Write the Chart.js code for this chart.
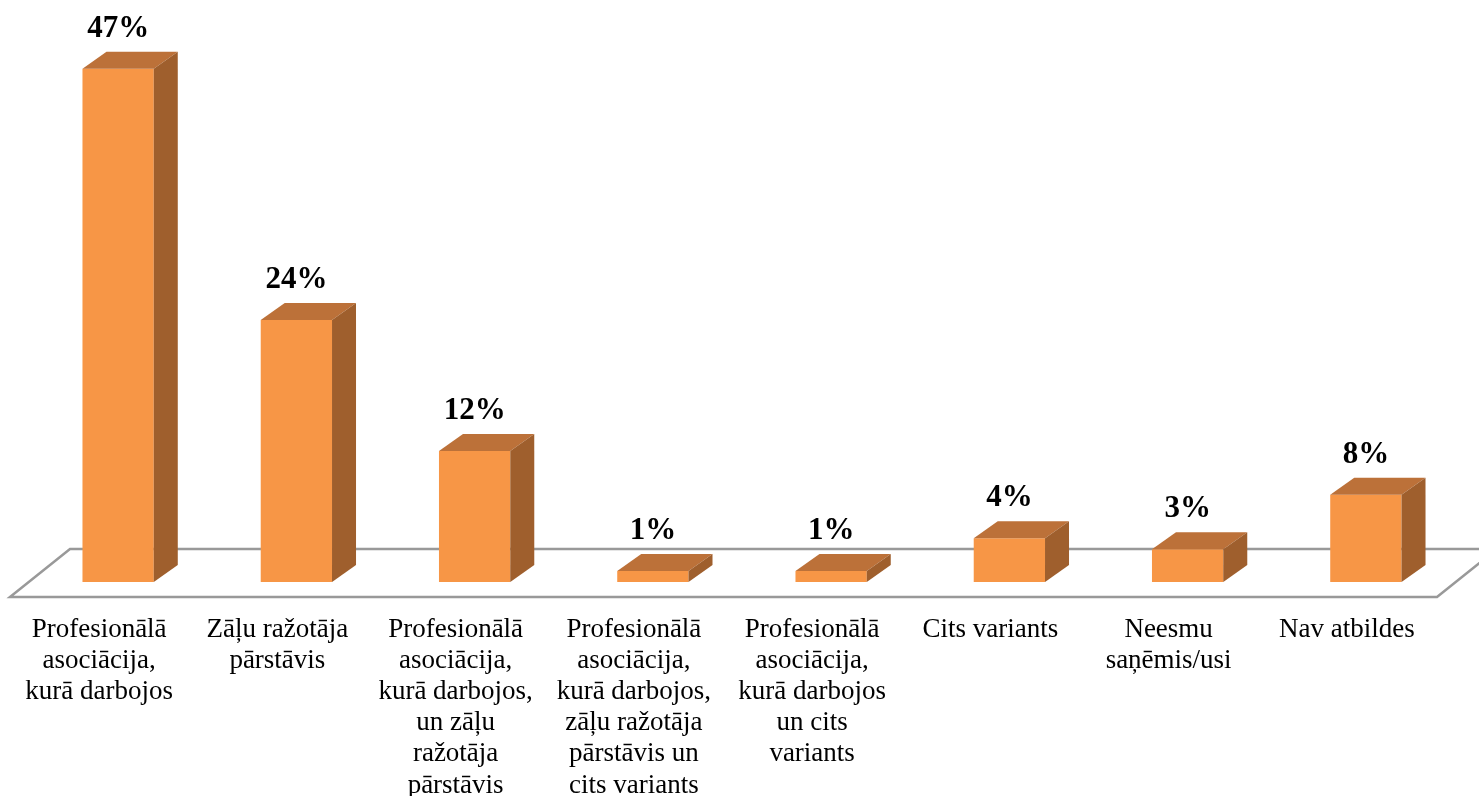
<!DOCTYPE html>
<html>
<head>
<meta charset="utf-8">
<script src="https://cdn.jsdelivr.net/npm/chart.js@4"></script>
<style>
  html, body { margin: 0; padding: 0; background: #fff; }
  #wrap { width: 1479px; height: 796px; }
</style>
</head>
<body>
<div id="wrap"><canvas id="chart"></canvas></div>
<script>
// data
const categories = [
  ["Profesionālā", "asociācija,", "kurā darbojos"],
  ["Zāļu ražotāja", "pārstāvis"],
  ["Profesionālā", "asociācija,", "kurā darbojos,", "un zāļu", "ražotāja", "pārstāvis"],
  ["Profesionālā", "asociācija,", "kurā darbojos,", "zāļu ražotāja", "pārstāvis un", "cits variants"],
  ["Profesionālā", "asociācija,", "kurā darbojos", "un cits", "variants"],
  ["Cits variants"],
  ["Neesmu", "saņēmis/usi"],
  ["Nav atbildes"]
];
const shares = [47, 24, 12, 1, 1, 4, 3, 8];

// 3D look
const DX = 24, DY = -17;
const FRONT = "#F79646", TOP = "#BC7139", SIDE = "#9F5F2D";

const box3d = {
  id: "box3d",
  beforeDatasetsDraw(chart) {
    // floor
    const { ctx, chartArea: a } = chart;
    const fl = a.left - 19, fr = a.right - 18, fy = a.bottom + 15;
    ctx.save();
    ctx.beginPath();
    ctx.moveTo(fl, fy);
    ctx.lineTo(fr, fy);
    ctx.lineTo(fr + 60, fy - 48);
    ctx.lineTo(fl + 60, fy - 48);
    ctx.closePath();
    ctx.fillStyle = "#fff";
    ctx.fill();
    ctx.strokeStyle = "#999";
    ctx.lineWidth = 2.5;
    ctx.stroke();
    ctx.restore();
  },
  afterDatasetsDraw(chart) {
    const ctx = chart.ctx;
    const meta = chart.getDatasetMeta(0);
    ctx.save();
    meta.data.forEach((bar, i) => {
      const l = bar.x - bar.width / 2, r = bar.x + bar.width / 2;
      const t = bar.y, b = bar.base;
      // top face
      ctx.beginPath();
      ctx.moveTo(l, t);
      ctx.lineTo(l + DX, t + DY);
      ctx.lineTo(r + DX, t + DY);
      ctx.lineTo(r, t);
      ctx.closePath();
      ctx.fillStyle = TOP;
      ctx.fill();
      // side face
      ctx.beginPath();
      ctx.moveTo(r, t);
      ctx.lineTo(r + DX, t + DY);
      ctx.lineTo(r + DX, b + DY);
      ctx.lineTo(r, b);
      ctx.closePath();
      ctx.fillStyle = SIDE;
      ctx.fill();
      // value label
      ctx.fillStyle = "#000";
      ctx.font = "bold 31px 'Liberation Serif', 'Times New Roman', serif";
      ctx.textAlign = "center";
      ctx.textBaseline = "alphabetic";
      ctx.fillText(shares[i] + "%", bar.x, t + DY - 15);
    });
    ctx.restore();
  }
};

new Chart(document.getElementById("chart"), {
  type: "bar",
  data: {
    labels: categories,
    datasets: [{
      data: shares,
      backgroundColor: FRONT,
      borderWidth: 0,
      categoryPercentage: 1,
      barPercentage: 0.4
    }]
  },
  options: {
    responsive: true,
    maintainAspectRatio: false,
    animation: false,
    layout: { padding: { top: 36, left: 29, right: 24, bottom: 0 } },
    plugins: { legend: { display: false }, tooltip: { enabled: false } },
    scales: {
      x: {
        grid: { display: false },
        border: { display: false },
        afterFit: (s) => { s.height = 214; },
        ticks: {
          color: "#000",
          padding: 24,
          labelOffset: -19,
          maxRotation: 0,
          autoSkip: false,
          font: { family: "'Liberation Serif', 'Times New Roman', serif", size: 27, lineHeight: 1.155 }
        }
      },
      y: { display: false, min: 0, max: 50 }
    }
  },
  plugins: [box3d]
});
</script>
</body>
</html>
